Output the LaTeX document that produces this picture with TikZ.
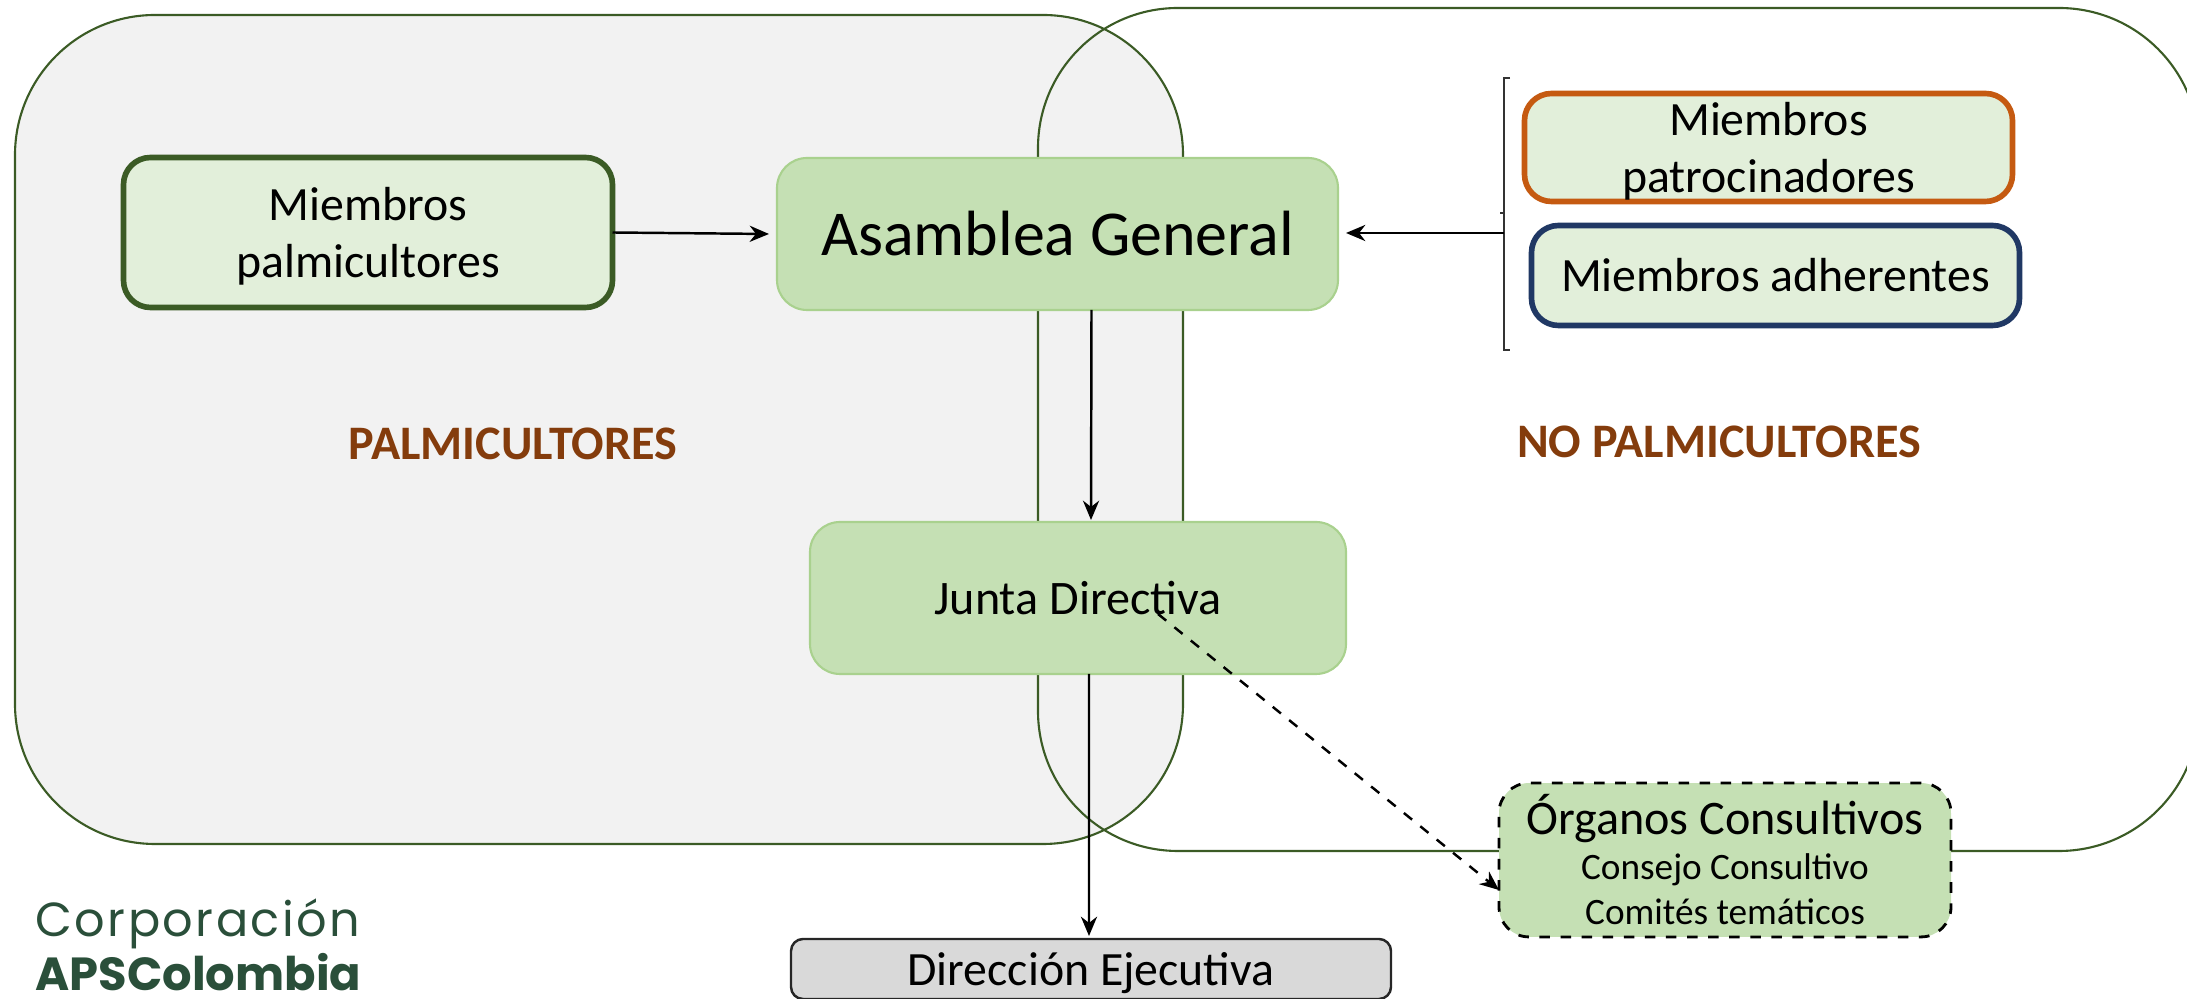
\documentclass[tikz,border=0pt]{standalone}
\usepackage{fontspec}
\setmainfont{Carlito}
\newfontfamily\logofont{Poppins}[LetterSpace=5]
\newfontfamily\logobold{Poppins}
\usepackage{tikz}
\usetikzlibrary{arrows.meta}
\tikzset{>={Stealth[length=5.5pt,width=4.6pt]}}
\definecolor{marco}{HTML}{3B5B25}
\definecolor{verde}{HTML}{C5E0B4}
\definecolor{verdeborde}{HTML}{A9D18E}
\definecolor{verdeclaro}{HTML}{E2EFDA}
\definecolor{cafe}{HTML}{843C0C}
\definecolor{naranja}{HTML}{C55A11}
\definecolor{azul}{HTML}{203864}
\definecolor{logoverde}{HTML}{2A4F3A}
\tikzset{
    grupo/.style={draw=marco, line width=0.6pt, rounded corners=1.4cm, outer sep=0pt},
    organo/.style={fill=verde, draw=verdeborde, line width=0.6pt, rounded corners=0.3cm, outer sep=0pt, align=center},
    miembro/.style={fill=verdeclaro, line width=1.6pt, rounded corners=0.27cm, inner sep=0pt, outer sep=0pt, align=center, font=\fontsize{13.6}{16.3}\selectfont},
    flecha/.style={->, line width=0.7pt},
    rotulo/.style={text=cafe, font=\fontsize{13.7}{15}\selectfont\bfseries}
}
\begin{document}
\begin{tikzpicture}
    \useasboundingbox (0,0) rectangle (21.87,9.99);
    % grupos de fondo
    \node[grupo, fill=black!5, minimum width=11.68cm, minimum height=8.29cm] (palmgrupo) at (5.99,5.695) {};
    \node[grupo, minimum width=11.61cm, minimum height=8.43cm] (nopalmgrupo) at (16.185,5.695) {};
    \node[rotulo] (palmrotulo) at (5.13,5.55) {PALMICULTORES};
    \node[rotulo] (nopalmrotulo) at (17.19,5.57) {NO PALMICULTORES};
    % organos
    \node[organo, minimum width=5.61cm, minimum height=1.52cm, font=\fontsize{18.2}{22}\selectfont] (asamblea) at (10.575,7.65) {Asamblea General};
    \node[organo, minimum width=5.36cm, minimum height=1.52cm, font=\fontsize{13.7}{16}\selectfont] (junta) at (10.78,4.01) {Junta Directiva};
    \node[organo, draw=black, dashed, line width=0.8pt, minimum width=4.52cm, minimum height=1.52cm, font=\fontsize{10.6}{12.8}\selectfont] (consultivos) at (17.25,1.39) {{\fontsize{13.7}{14}\selectfont Órganos Consultivos}\\Consejo Consultivo\\Comités temáticos};
    \node[draw=black!85, fill=black!15, line width=0.7pt, rounded corners=0.12cm, text depth=0pt, minimum width=6cm, minimum height=0.6cm, inner sep=0pt, outer sep=0pt, font=\fontsize{13.6}{16}\selectfont] (direccion) at (10.91,0.3) {Dirección Ejecutiva};
    % miembros
    \node[miembro, draw=marco, text depth=0pt, minimum width=4.89cm, minimum height=1.50cm] (palmicultores) at (3.68,7.665) {Miembros\\palmicultores};
    \node[miembro, draw=naranja, text depth=0pt, minimum width=4.88cm, minimum height=1.08cm] (patrocinadores) at (17.685,8.515) {Miembros\\patrocinadores};
    \node[miembro, draw=azul, minimum width=4.88cm, minimum height=1.00cm] (adherentes) at (17.755,7.235) {Miembros adherentes};
    % corchete
    \coordinate (corchete) at (15.04,7.66);
    \draw[line width=0.3pt, black!80] (15.10,9.21) -- (15.04,9.21) -- (15.04,6.49) -- (15.10,6.49);
    \draw[line width=0.3pt, black!80] (15.04,7.86) -- ++(-0.04,0);
    % flechas
    \draw[flecha] (palmicultores.east) -- ([xshift=-0.08cm]asamblea.west);
    \draw[flecha] (corchete) -- ([xshift=0.08cm]asamblea.east |- corchete);
    \draw[flecha] ([xshift=0.34cm]asamblea.south) -- ([xshift=0.13cm,yshift=0.02cm]junta.north);
    \draw[flecha] ([xshift=0.11cm]junta.south) -- ([xshift=-0.02cm,yshift=0.03cm]direccion.north);
    \draw[flecha, dashed] (11.58,3.85) -- ([yshift=-0.30cm]consultivos.west);
    % logo
    \node[anchor=base west, inner sep=0pt, text=logoverde, font=\logofont\fontsize{13.6}{14}\selectfont] (corporacion) at (0.35,0.62) {Corporación};
    \node[anchor=base west, inner sep=0pt, text=logoverde, font=\logobold\bfseries\fontsize{13.2}{14}\selectfont] (aps) at (0.35,0.08) {APSColombia};
\end{tikzpicture}
\end{document}
